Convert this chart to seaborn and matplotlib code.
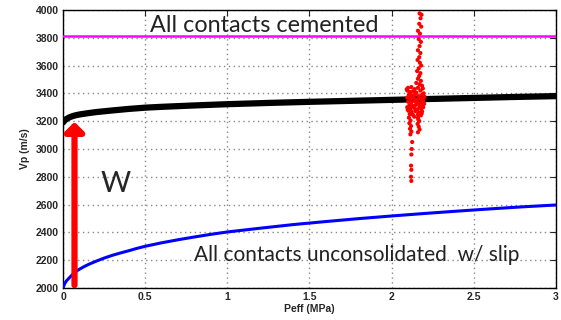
import numpy as np
import pandas as pd
import matplotlib
matplotlib.use("Agg")
import matplotlib.pyplot as plt
import seaborn as sns

# ---- data ----
peff_black = [0.0, 0.01, 0.02, 0.04, 0.06, 0.08, 0.1, 0.15, 0.2, 0.3, 0.4, 0.5, 0.6, 0.8,
              1.0, 1.25, 1.5, 1.75, 2.0, 2.25, 2.5, 2.75, 3.0]
vp_black = [3190, 3205, 3215, 3228, 3237, 3243, 3248, 3257, 3265, 3277, 3288, 3297, 3303, 3313,
            3322, 3331, 3339, 3346, 3353, 3360, 3367, 3374, 3380]

peff_blue = [0.0, 0.01, 0.02, 0.04, 0.06, 0.08, 0.1, 0.13, 0.16, 0.2, 0.25, 0.3, 0.35, 0.4,
             0.45, 0.5, 0.6, 0.7, 0.8, 0.9, 1.0, 1.2, 1.4, 1.6, 1.8, 2.0, 2.2, 2.4, 2.6, 2.8, 3.0]
vp_blue = [2000, 2030, 2050, 2075, 2100, 2120, 2135, 2155, 2172, 2192, 2215, 2235, 2252, 2268,
           2285, 2300, 2325, 2347, 2367, 2386, 2403, 2430, 2456, 2478, 2499, 2518, 2536, 2553,
           2569, 2584, 2597]

peff_cem = [0.0, 3.0]
vp_cem = [3810, 3810]

peff_meas = [2.170, 2.182, 2.176, 2.168, 2.180, 2.160, 2.172, 2.165, 2.178, 2.170, 2.160, 2.175, 2.168,
             2.158, 2.172, 2.180, 2.165, 2.155, 2.175, 2.168, 2.160, 2.178, 2.150, 2.170, 2.185,
             2.100, 2.120, 2.140, 2.160, 2.190, 2.095, 2.110, 2.130, 2.150, 2.175, 2.195, 2.105,
             2.125, 2.145, 2.165, 2.185, 2.200, 2.095, 2.115, 2.135, 2.155, 2.178, 2.192, 2.100,
             2.120, 2.140, 2.160, 2.182, 2.198, 2.108, 2.128, 2.148, 2.170, 2.188, 2.095, 2.115,
             2.138, 2.158, 2.180, 2.102, 2.122, 2.145, 2.165, 2.185, 2.110, 2.130, 2.160, 2.178,
             2.105, 2.115, 2.108, 2.118, 2.112, 2.120, 2.114, 2.160, 2.168, 2.158, 2.165, 2.170,
             2.160, 2.125, 2.122, 2.120, 2.118, 2.120, 2.118, 2.120,
             2.092, 2.112, 2.132, 2.152, 2.172, 2.192, 2.098, 2.118, 2.138, 2.162, 2.183]
vp_meas = [3975, 3965, 3940, 3900, 3880, 3850, 3830, 3790, 3770, 3740, 3710, 3690, 3660,
           3640, 3620, 3600, 3580, 3560, 3545, 3525, 3505, 3490, 3475, 3465, 3455,
           3440, 3445, 3430, 3440, 3435, 3420, 3410, 3415, 3405, 3420, 3400, 3390,
           3385, 3395, 3380, 3390, 3375, 3370, 3360, 3365, 3355, 3360, 3350, 3340,
           3335, 3345, 3330, 3338, 3325, 3315, 3310, 3318, 3305, 3312, 3300, 3290,
           3295, 3285, 3290, 3275, 3268, 3272, 3262, 3270, 3250, 3245, 3248, 3242,
           3225, 3205, 3185, 3165, 3145, 3125, 3105, 3225, 3200, 3180, 3160, 3140,
           3120, 3050, 3000, 2960, 2880, 2850, 2800, 2770,
           3430, 3400, 3372, 3350, 3322, 3300, 3283, 3260, 3232, 3212, 3255]

arrow_x = 0.07
arrow_y = [2020, 3195]

x_ticks = [0, 0.5, 1, 1.5, 2, 2.5, 3]
x_ticklabels = ["0", "0.5", "1", "1.5", "2", "2.5", "3"]
y_ticks = [2000, 2200, 2400, 2600, 2800, 3000, 3200, 3400, 3600, 3800, 4000]

sns.set_style("white")
plt.rcParams['font.family'] = ['Liberation Sans', 'DejaVu Sans']

fig = plt.figure(figsize=(5.61, 3.20), dpi=100)
ax = fig.add_axes([0.1123, 0.10, 0.8787, 0.869])

ax.grid(True, color="#888888", linestyle=(0, (1, 2.5)), linewidth=1.0)
ax.set_axisbelow(True)

sns.lineplot(x=peff_cem, y=vp_cem, ax=ax, color="#ff00ff", linewidth=1.8, zorder=3)
sns.lineplot(x=peff_black, y=vp_black, ax=ax, color="black", linewidth=4.5, zorder=3)
sns.lineplot(x=peff_blue, y=vp_blue, ax=ax, color="#0000ff", linewidth=2.2, zorder=3)
sns.scatterplot(x=peff_meas, y=vp_meas, ax=ax, color="#ff0000", s=9, edgecolor="none", zorder=4)

ax.annotate("", xy=(arrow_x, arrow_y[1]), xytext=(arrow_x, arrow_y[0]),
            arrowprops=dict(arrowstyle="-|>,head_width=0.55,head_length=0.55",
                            color="#ff0000", lw=4.5, shrinkA=0, shrinkB=0), zorder=5)

ax.text(0.23, 2750, "W", fontsize=21, family=["Lato", "DejaVu Sans"], va="center", ha="left")
ax.text(0.53, 3885, "All contacts cemented", fontsize=16.8, family=["Lato", "DejaVu Sans"],
        va="center", ha="left", color="#222222")
ax.text(0.80, 2240, "All contacts unconsolidated  w/ slip", fontsize=15,
        family=["Lato", "DejaVu Sans"], va="center", ha="left", color="#222222")

ax.set_xlim(0, 3)
ax.set_ylim(2000, 4000)
ax.set_xticks(x_ticks)
ax.set_xticklabels(x_ticklabels)
ax.set_yticks(y_ticks)
ax.tick_params(direction="in", length=4, width=0.8, top=True, right=True,
               labelsize=7.5, pad=3)
for lab in ax.get_xticklabels() + ax.get_yticklabels():
    lab.set_fontweight("bold")
for sp in ax.spines.values():
    sp.set_linewidth(1.0)
    sp.set_color("black")

ax.set_xlabel("Peff (MPa)", fontsize=7.5, fontweight="bold", labelpad=1)
ax.set_ylabel("Vp (m/s)", fontsize=7.5, fontweight="bold", labelpad=4)

fig.savefig("out.png", dpi=100)
